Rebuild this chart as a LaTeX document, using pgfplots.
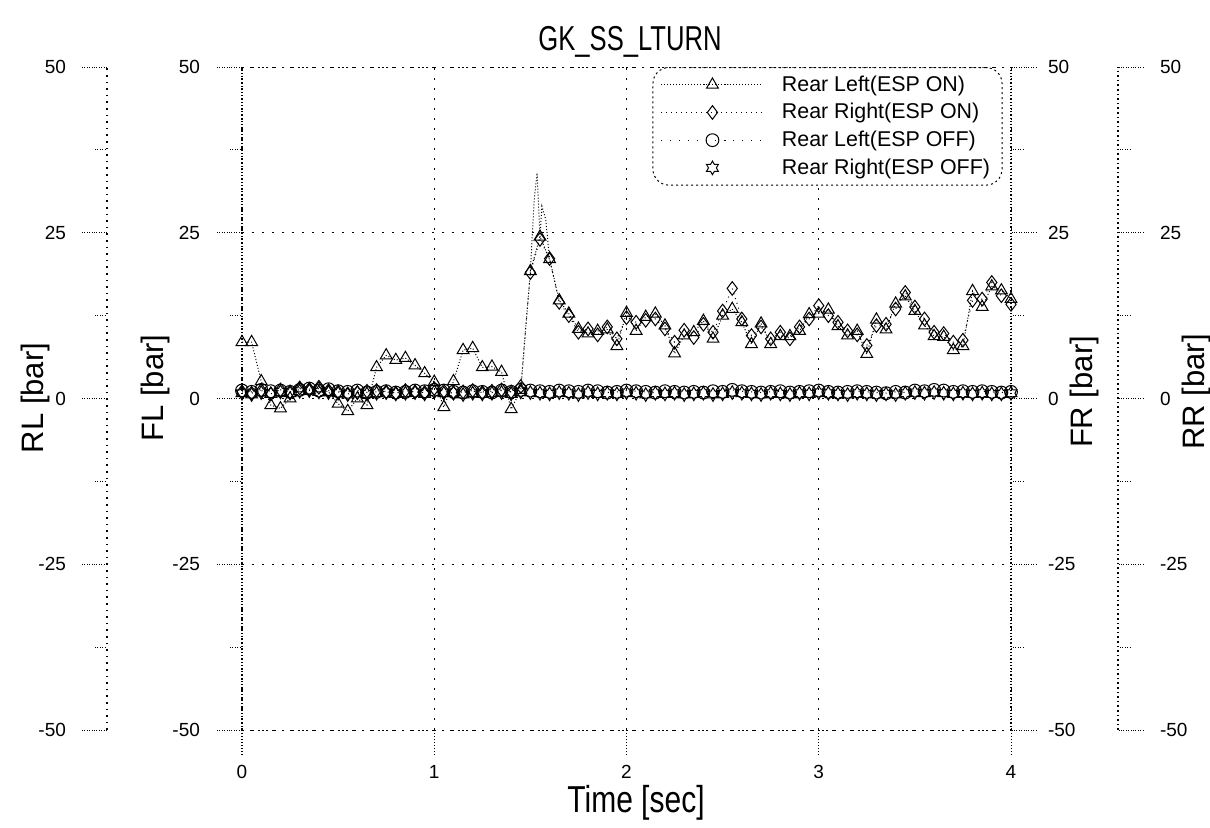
\documentclass[border=0pt]{standalone}
\usepackage{fontspec}
\setmainfont{Liberation Sans}
\usepackage{pgfplots}
\pgfplotsset{compat=1.18}
\usepackage{pgfplotstable}

\pgfdeclareplotmark{hexagram}{%
  \pgfpathmoveto{\pgfqpointpolar{90}{\pgfplotmarksize}}%
  \pgfpathlineto{\pgfqpointpolar{120}{0.577\pgfplotmarksize}}%
  \pgfpathlineto{\pgfqpointpolar{150}{\pgfplotmarksize}}%
  \pgfpathlineto{\pgfqpointpolar{180}{0.577\pgfplotmarksize}}%
  \pgfpathlineto{\pgfqpointpolar{210}{\pgfplotmarksize}}%
  \pgfpathlineto{\pgfqpointpolar{240}{0.577\pgfplotmarksize}}%
  \pgfpathlineto{\pgfqpointpolar{270}{\pgfplotmarksize}}%
  \pgfpathlineto{\pgfqpointpolar{300}{0.577\pgfplotmarksize}}%
  \pgfpathlineto{\pgfqpointpolar{330}{\pgfplotmarksize}}%
  \pgfpathlineto{\pgfqpointpolar{0}{0.577\pgfplotmarksize}}%
  \pgfpathlineto{\pgfqpointpolar{30}{\pgfplotmarksize}}%
  \pgfpathlineto{\pgfqpointpolar{60}{0.577\pgfplotmarksize}}%
  \pgfpathclose
  \pgfusepathqstroke
}

\pgfplotstableread{
t rlon rron rloff rroff
0.00 8.5 1.0 1.2 0.8
0.05 8.5 0.8 1.0 0.6
0.10 2.6 1.2 1.3 0.9
0.15 -1.0 0.7 1.1 0.7
0.20 -1.5 1.3 1.2 1.0
0.25 0.0 1.0 1.0 0.8
0.30 1.5 1.6 1.3 1.1
0.35 1.2 1.4 1.5 1.2
0.40 1.5 1.7 1.2 1.0
0.45 1.0 1.2 1.4 0.9
0.50 -0.8 1.0 1.1 0.8
0.55 -1.9 0.7 1.0 0.6
0.60 0.0 0.9 1.2 0.9
0.65 -1.0 1.1 0.9 0.7
0.70 4.7 1.2 1.0 0.8
0.75 6.5 1.0 1.1 0.9
0.80 5.8 0.8 0.9 0.7
0.85 6.1 1.2 1.0 0.8
0.90 5.0 1.0 1.2 0.9
0.95 3.8 0.9 1.1 0.7
1.00 2.5 1.5 1.3 1.0
1.05 -1.3 1.1 1.2 0.8
1.10 2.6 0.8 1.0 0.9
1.15 7.3 1.0 0.9 0.6
1.20 7.6 1.2 1.1 0.8
1.25 4.7 0.9 1.0 0.7
1.30 4.8 1.1 0.9 0.8
1.35 4.0 1.3 1.2 0.9
1.40 -1.6 1.0 1.0 0.7
1.45 1.3 1.8 1.3 1.0
1.50 19.2 19.0 1.2 0.9
1.55 24.4 24.0 1.1 0.8
1.60 21.0 21.1 1.0 0.7
1.65 14.8 14.5 1.2 0.9
1.70 12.8 12.5 1.1 0.8
1.75 10.5 10.0 1.0 0.6
1.80 9.8 10.5 1.2 0.9
1.85 10.2 9.6 1.1 0.7
1.90 10.4 10.8 0.9 0.8
1.95 7.9 9.0 1.0 0.7
2.00 12.9 12.2 1.2 0.9
2.05 10.2 11.5 1.1 0.8
2.10 12.3 11.8 1.0 0.6
2.15 12.8 12.0 0.9 0.8
2.20 11.0 10.5 1.1 0.7
2.25 6.8 8.5 1.0 0.8
2.30 9.5 10.3 0.9 0.6
2.35 10.0 9.2 1.0 0.7
2.40 11.7 11.2 0.9 0.8
2.45 9.0 10.0 1.1 0.6
2.50 12.5 13.2 1.0 0.7
2.55 13.5 16.6 1.3 0.9
2.60 11.5 12.0 1.1 0.8
2.65 8.2 9.5 1.0 0.7
2.70 11.3 10.8 0.9 0.6
2.75 8.2 9.0 1.0 0.8
2.80 9.4 10.0 1.1 0.7
2.85 9.4 9.0 0.9 0.6
2.90 10.2 10.8 1.0 0.8
2.95 12.7 12.0 1.1 0.7
3.00 12.8 14.0 1.2 0.9
3.05 13.4 12.5 1.0 0.8
3.10 10.9 11.5 0.9 0.7
3.15 9.5 10.2 1.0 0.6
3.20 10.2 9.6 1.1 0.8
3.25 6.7 8.0 1.0 0.7
3.30 11.9 11.0 0.9 0.6
3.35 10.4 11.2 0.8 0.7
3.40 14.3 13.5 1.0 0.6
3.45 15.4 16.0 0.9 0.8
3.50 13.2 13.8 1.2 0.9
3.55 11.0 12.0 1.1 0.8
3.60 9.4 10.0 1.3 0.9
3.65 9.3 9.8 1.2 0.8
3.70 7.3 8.5 1.0 0.7
3.75 7.9 8.8 1.1 0.8
3.80 16.2 14.8 1.0 0.7
3.85 13.8 15.0 1.1 0.8
3.90 16.9 17.5 1.0 0.7
3.95 16.3 15.5 0.9 0.7
4.00 15.0 14.2 1.0 0.8
}\datatable

\pgfplotsset{
  yaxisbase/.style={
    scale only axis, height=331.5pt,
    ymin=-50, ymax=50,
    ytick={-50,-25,0,25,50},
    minor ytick={-37.5,-12.5,12.5,37.5},
    tick align=outside,
    major tick length=12.5pt, minor tick length=6pt,
    tick style={black, densely dotted, line width=0.5pt},
    ticklabel style={font=\fontsize{9.5}{11}\selectfont},
    /pgf/number format/assume math mode=true,
  },
}

\begin{document}
\begin{tikzpicture}
\path[use as bounding box] (-121pt,-48.5pt) rectangle (484pt,365pt);

% RL axis
\begin{axis}[yaxisbase, at={(-67.5pt,0pt)}, anchor=south west, width=1pt,
  xmin=0, xmax=1, hide x axis, axis y line*=left,
  yticklabel style={xshift=-4.5pt},
  y axis line style={black, dash pattern=on 0.8pt off 2.5pt, line width=0.6pt}]
\addplot[draw=none] coordinates {(0,0)};
\end{axis}

% RR axis
\begin{axis}[yaxisbase, at={(437pt,0pt)}, anchor=south west, width=1pt,
  xmin=0, xmax=1, hide x axis, axis y line*=right,
  yticklabel style={xshift=5pt},
  y axis line style={black, dash pattern=on 0.8pt off 1.5pt, line width=0.6pt}]
\addplot[draw=none] coordinates {(0,0)};
\end{axis}

% FR axis
\begin{axis}[yaxisbase, at={(0pt,0pt)}, anchor=south west, width=384.5pt,
  xmin=0, xmax=4, hide x axis, axis y line*=right,
  yticklabel style={xshift=2.5pt},
  y axis line style={black, densely dotted, line width=0.6pt}]
\addplot[draw=none] coordinates {(0,0)};
\end{axis}

% Main (FL) axis
\begin{axis}[yaxisbase, at={(0pt,0pt)}, anchor=south west, width=384.5pt,
  xmin=0, xmax=4, xtick={0,1,2,3,4},
  ytick pos=left, yticklabel pos=left, xtick pos=bottom,
  yticklabel style={xshift=-5pt},
  xticklabel style={yshift=-1.5pt},
  major x tick style={black, densely dotted},
  separate axis lines,
  x axis line style={black, dash pattern=on 1pt off 3pt, line width=0.5pt},
  y axis line style={black, densely dotted, line width=0.6pt},
  xmajorgrids, ymajorgrids,
  grid style={black, dash pattern=on 1pt off 4pt, line width=0.5pt},
  legend style={at={(0.989,1.0)}, anchor=north east,
    draw=black, dash pattern=on 1pt off 1.5pt, line width=0.5pt,
    rounded corners=8pt, fill=white,
    font=\fontsize{10.7}{12.5}\selectfont,
    inner xsep=4pt, inner ysep=2pt, row sep=0.6pt},
  legend cell align=left,
  legend image code/.code={%
    \draw[mark repeat=2,mark phase=2,#1] plot coordinates {(0pt,0pt) (25.5pt,0pt) (51pt,0pt)};},
]
\addplot[black, densely dotted, line width=0.5pt, mark=triangle, mark size=3.4pt,
  mark options={solid, line width=0.5pt}] table[x=t, y=rlon] {\datatable};
\addplot[black, dotted, line width=0.5pt, mark=diamond, mark size=3.4pt,
  mark options={solid, line width=0.5pt}] table[x=t, y=rron] {\datatable};
\addplot[black, loosely dotted, line width=0.5pt, mark=o, mark size=3.2pt,
  mark options={solid, line width=0.5pt}] table[x=t, y=rloff] {\datatable};
\addplot[black, only marks, mark=hexagram, mark size=3.4pt,
  mark options={solid, line width=0.5pt}] table[x=t, y=rroff] {\datatable};
\addplot[black, densely dotted, line width=0.5pt, forget plot]
  coordinates {(1.50,19.2) (1.52,30) (1.535,34) (1.55,24.4) (1.56,29) (1.58,27) (1.60,21.0)};
\legend{\hspace*{7pt}Rear Left(ESP ON), \hspace*{7pt}Rear Right(ESP ON), \hspace*{7pt}Rear Left(ESP OFF), \hspace*{7pt}Rear Right(ESP OFF)}
\end{axis}

% Titles and labels
\node at (194pt,344pt) {\scalebox{1}[1.35]{\fontsize{12.8}{15}\selectfont GK\_SS\_LTURN}};
\node at (197pt,-36.5pt) {\scalebox{1}[1.25]{\fontsize{15}{18}\selectfont Time [sec]}};
\node[rotate=90] at (-103.5pt,166pt) {\fontsize{15.5}{18}\selectfont RL [bar]};
\node[rotate=90] at (-43.5pt,171pt) {\fontsize{15.5}{18}\selectfont FL [bar]};
\node[rotate=90] at (421pt,169pt) {\fontsize{15.5}{18}\selectfont FR [bar]};
\node[rotate=90] at (477pt,169pt) {\fontsize{15.5}{18}\selectfont RR [bar]};
\end{tikzpicture}
\end{document}
